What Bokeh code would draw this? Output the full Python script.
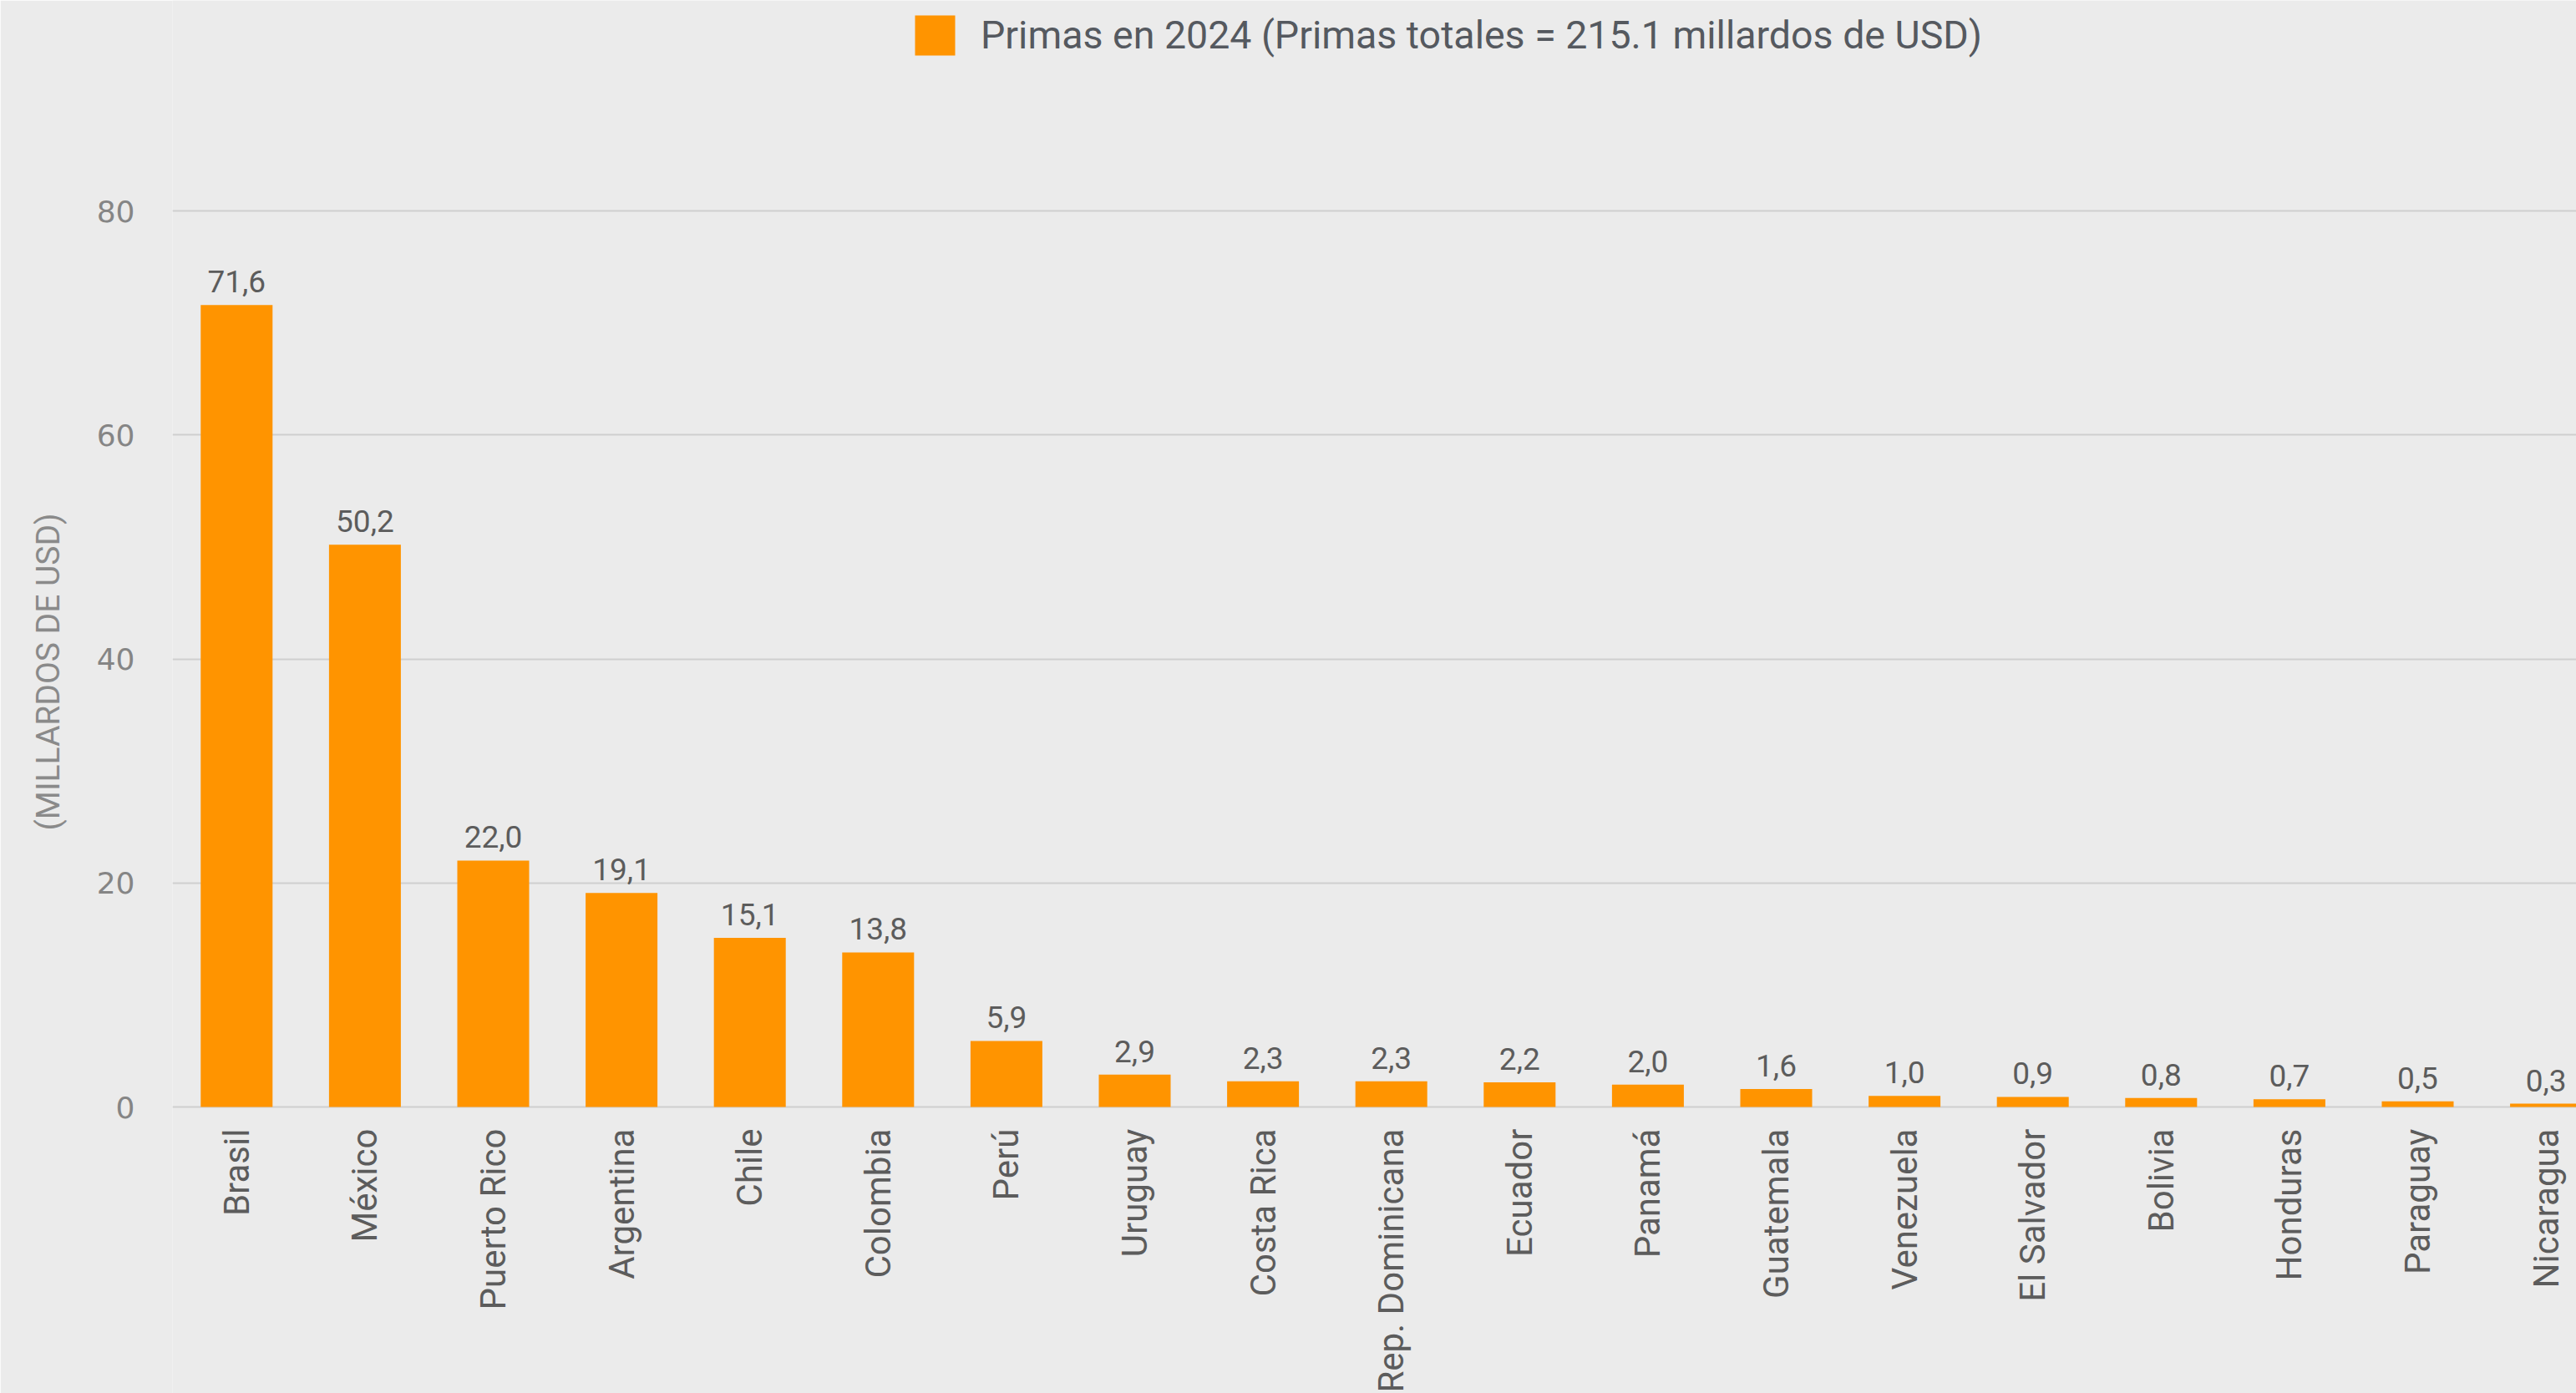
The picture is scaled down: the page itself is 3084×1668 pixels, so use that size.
import math
from bokeh.plotting import figure
from bokeh.models import ColumnDataSource, Range1d, FixedTicker, LabelSet, Title
from bokeh.core.properties import value
from bokeh.embed import file_html
from bokeh.resources import INLINE

countries = ["Brasil", "México", "Puerto Rico", "Argentina", "Chile", "Colombia", "Perú",
             "Uruguay", "Costa Rica", "Rep. Dominicana", "Ecuador", "Panamá", "Guatemala",
             "Venezuela", "El Salvador", "Bolivia", "Honduras", "Paraguay", "Nicaragua"]
primas = [71.6, 50.2, 22.0, 19.1, 15.1, 13.8, 5.9, 2.9, 2.3, 2.3, 2.2, 2.0, 1.6,
          1.0, 0.9, 0.8, 0.7, 0.5, 0.3]
y_ticks = [0, 20, 40, 60, 80]
legend_text = "Primas en 2024 (Primas totales = 215.1 millardos de USD)"
y_title = "(MILLARDOS DE USD)"

BG = "#ebebeb"
ORANGE = "#ff9400"

src = ColumnDataSource(dict(
    x=list(range(len(countries))),
    top=primas,
    zero=[0] * len(primas),
    name=countries,
    lbl=[f"{v:.1f}".replace(".", ",") for v in primas],
))

p = figure(width=3084, height=1668, output_backend="svg", toolbar_location=None,
           x_range=Range1d(-0.5, 18.237), y_range=Range1d(-25.57, 98.79),
           min_border_left=206, min_border_right=0, min_border_top=0, min_border_bottom=0,
           background_fill_color=BG, border_fill_color=BG, outline_line_color=None)

p.vbar(x="x", top="top", bottom=0, width=0.56, source=src, color=ORANGE,
       line_color=None, legend_label=legend_text)

p.xaxis.visible = False
p.xgrid.visible = False

ya = p.yaxis[0]
ya.ticker = FixedTicker(ticks=y_ticks)
ya.axis_line_color = None
ya.major_tick_line_color = None
ya.minor_tick_line_color = None
ya.major_tick_out = 0
ya.major_label_standoff = 45
ya.major_label_text_font = "DejaVu Sans"
ya.major_label_text_font_size = "36px"
ya.major_label_text_color = "#858585"

p.ygrid.grid_line_color = "#cfcfcf"
p.ygrid.grid_line_width = 2

# value labels
p.add_layout(LabelSet(x="x", y="top", text="lbl", source=src, y_offset=15,
                      text_align="center", text_baseline="alphabetic",
                      text_font=value("Roboto"), text_font_size=value("37px"),
                      text_color=value("#5c5c5c")))
# category labels
p.add_layout(LabelSet(x="x", y="zero", text="name", source=src, y_offset=-26,
                      angle=math.pi / 2, text_align="right", text_baseline="middle",
                      text_font=value("Roboto"), text_font_size=value("42px"),
                      text_color=value("#5c5c5c")))
# y title
p.add_layout(Title(text=y_title, align="left", offset=674, standoff=62,
                   vertical_align="middle",
                   text_font="Roboto", text_font_size="39px", text_font_style="normal",
                   text_color="#8a8a8a"), "left")

lg = p.legend[0]
lg.location = (883, 1596)
lg.orientation = "horizontal"
lg.glyph_width = 60
lg.glyph_height = 60
lg.label_standoff = 25
lg.label_text_font = "Roboto"
lg.label_text_font_size = "46.5px"
lg.label_text_color = "#55595f"
lg.padding = 0
lg.margin = 0
lg.border_line_color = None
lg.background_fill_alpha = 0

open("out.html", "w").write(file_html(p, INLINE))
